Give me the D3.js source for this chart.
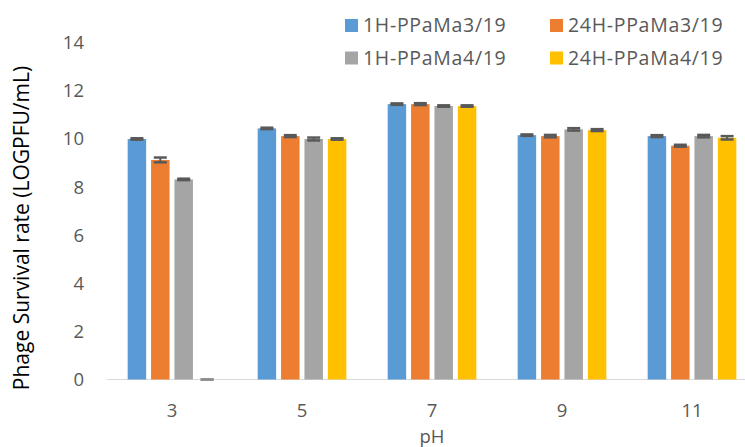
<!DOCTYPE html>
<html>
<head>
<meta charset="utf-8">
<script src="https://cdn.jsdelivr.net/npm/d3@7"></script>
<style>
  html, body { margin: 0; padding: 0; background: #fff; }
  svg { display: block; font-family: "Open Sans", "Noto Sans", sans-serif; }
</style>
</head>
<body>
<svg id="chart" width="745" height="447"></svg>
<script>
const categories = ["3", "5", "7", "9", "11"];
const seriesNames = ["1H-PPaMa3/19", "24H-PPaMa3/19", "1H-PPaMa4/19", "24H-PPaMa4/19"];
const seriesColors = ["#5b9bd5", "#ed7d31", "#a5a5a5", "#ffc000"];
const values1H_3 = [10.0, 10.44, 11.45, 10.16, 10.12];
const values24H_3 = [9.13, 10.12, 11.45, 10.12, 9.72];
const values1H_4 = [8.32, 10.0, 11.37, 10.4, 10.12];
const values24H_4 = [0.0, 10.0, 11.37, 10.37, 10.05];
const errors1H_3 = [0.03, 0.03, 0.03, 0.03, 0.04];
const errors24H_3 = [0.10, 0.04, 0.04, 0.05, 0.04];
const errors1H_4 = [0.03, 0.06, 0.03, 0.05, 0.05];
const errors24H_4 = [0.0, 0.03, 0.03, 0.04, 0.07];
const yTicks = [0, 2, 4, 6, 8, 10, 12, 14];

const seriesValues = [values1H_3, values24H_3, values1H_4, values24H_4];
const seriesErrors = [errors1H_3, errors24H_3, errors1H_4, errors24H_4];

const svg = d3.select("#chart");
const textColor = "#595959";

const x0 = d3.scaleBand().domain(categories).range([107, 757]).paddingInner(0.318).paddingOuter(0.159);
const x1 = d3.scaleBand().domain(seriesNames).range([0, x0.bandwidth()]).paddingInner(0.21).paddingOuter(0);
const y = d3.scaleLinear().domain([0, 14]).range([379.5, 42.8]);

// Y axis (labels only)
const yAxis = d3.axisLeft(y).tickValues(yTicks).tickSize(0).tickPadding(0).tickFormat(d3.format("d"));
const gy = svg.append("g").attr("transform", "translate(84,0)").call(yAxis);
gy.select(".domain").remove();
gy.selectAll("text").attr("fill", textColor).style("font-size", "18.5px").style("font-family", "'Open Sans', sans-serif").attr("x", 0);

// X axis
const xAxis = d3.axisBottom(x0).tickSize(0).tickPadding(0);
const gx = svg.append("g").attr("transform", "translate(0,379.5)").call(xAxis);
gx.select(".domain").remove();
gx.selectAll("text").attr("fill", textColor).style("font-size", "18.5px").style("font-family", "'Open Sans', sans-serif").attr("dy", null).attr("y", 37);

svg.append("line").attr("x1", 107).attr("x2", 745).attr("y1", 379.5).attr("y2", 379.5)
  .attr("stroke", "#d9d9d9").attr("stroke-width", 1.2);

// Bars
const groups = svg.append("g").selectAll("g").data(categories).join("g")
  .attr("transform", d => `translate(${x0(d)},0)`);

groups.each(function(cat, ci) {
  const g = d3.select(this);
  seriesNames.forEach((s, si) => {
    const v = seriesValues[si][ci];
    const e = seriesErrors[si][ci];
    const bx = x1(s);
    const bw = x1.bandwidth();
    if (v > 0) {
      g.append("rect").attr("x", bx).attr("y", y(v)).attr("width", bw).attr("height", y(0) - y(v))
        .attr("fill", seriesColors[si]);
    }
    const cx = bx + bw / 2;
    const capW = 13;
    g.append("line").attr("x1", cx).attr("x2", cx).attr("y1", y(v + e)).attr("y2", y(v - e > 0 ? v - e : v))
      .attr("stroke", "#595959").attr("stroke-width", 2);
    [v + e, v - e].forEach(val => {
      if (val < 0) return;
      g.append("line").attr("x1", cx - capW / 2).attr("x2", cx + capW / 2).attr("y1", y(val)).attr("y2", y(val))
        .attr("stroke", v > 0 ? "#595959" : "#8c8c8c").attr("stroke-width", 2.5);
    });
  });
});

// Axis titles
svg.append("text").attr("transform", "translate(29,228) rotate(-90)").attr("text-anchor", "middle")
  .attr("fill", "#000").style("font-size", "21px").text("Phage Survival rate (LOGPFU/mL)");
svg.append("text").attr("x", 432).attr("y", 443).attr("text-anchor", "middle")
  .attr("fill", textColor).style("font-size", "18.5px").text("pH");

// Legend
const legendPos = [[345, 19], [550, 19], [345, 51.5], [550, 51.5]];
const legend = svg.append("g");
seriesNames.forEach((s, i) => {
  const [lx, ly] = legendPos[i];
  legend.append("rect").attr("x", lx).attr("y", ly).attr("width", 13).attr("height", 13).attr("fill", seriesColors[i]);
  legend.append("text").attr("x", lx + 18).attr("y", ly + 13).attr("fill", textColor)
    .style("font-size", "19.5px").style("letter-spacing", "0.7px").text(s);
});
</script>
</body>
</html>
